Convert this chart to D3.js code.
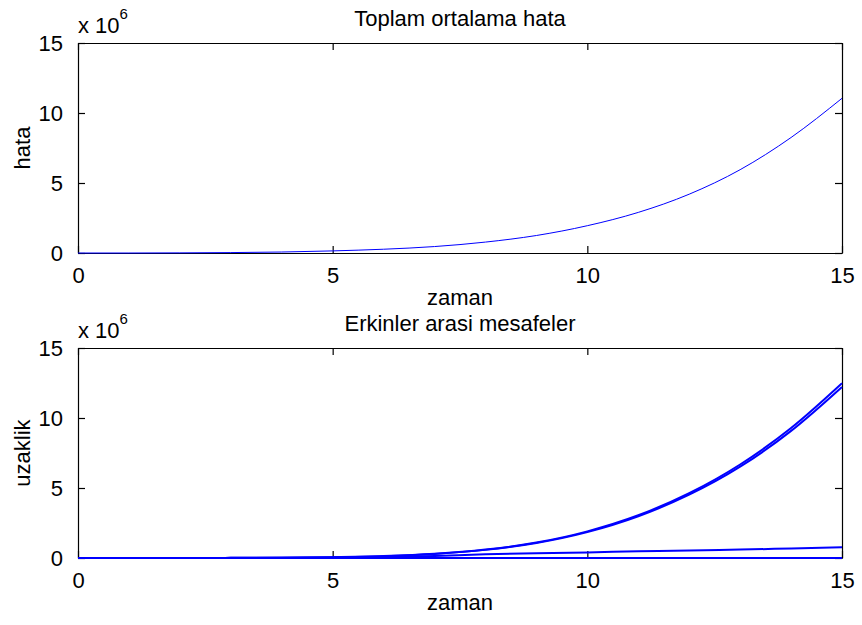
<!DOCTYPE html>
<html>
<head>
<meta charset="utf-8">
<script src="https://cdn.jsdelivr.net/npm/d3@7"></script>
<style>
  body { margin: 0; background: #fff; }
  svg text { font-family: "Liberation Sans", Arial, sans-serif; fill: #000; }
</style>
</head>
<body>
<svg id="chart" width="862" height="625"></svg>
<script>
// time axis (zaman)
var zaman = [0, 1, 2, 3, 4, 5, 6, 7, 8, 9, 10, 11, 12, 13, 14, 15];

// top plot: total mean error, x 10^6
var hata = [0, 0, 0.01, 0.03, 0.07, 0.15, 0.27, 0.46, 0.78, 1.25, 1.95, 2.9, 4.2, 5.95, 8.25, 11.05];

// bottom plot: distances between agents, x 10^6
var uzaklik1 = [0, 0, 0, 0.01, 0.02, 0.06, 0.14, 0.3, 0.6, 1.1, 1.9, 3.05, 4.63, 6.68, 9.28, 12.48];
var uzaklik2 = [0, 0, 0, 0.01, 0.02, 0.06, 0.13, 0.29, 0.58, 1.07, 1.85, 2.98, 4.52, 6.52, 9.08, 12.22];
var uzaklik3 = [0, 0, 0, 0, 0.01, 0.02, 0.06, 0.15, 0.26, 0.34, 0.4, 0.48, 0.54, 0.6, 0.68, 0.76];
var uzaklik4 = [0, 0, 0, 0, 0, 0, 0, 0, 0, 0, 0, 0, 0, 0, 0, 0];

var xTicks = [0, 5, 10, 15];
var yTicks = [0, 5, 10, 15];

var svg = d3.select('#chart');
var left = 78, right = 842, plotH = 210;

function drawPanel(top, title, ylabel, series, lineWidth) {
  var x = d3.scaleLinear().domain([0, 15]).range([left, right]);
  var y = d3.scaleLinear().domain([0, 15]).range([top + plotH, top]);
  var g = svg.append('g');

  // axes, ticks pointing inward like matlab
  var bottomAx = g.append('g').attr('transform', 'translate(0,' + (top + plotH) + ')')
    .call(d3.axisBottom(x).tickValues(xTicks).tickSizeInner(-7).tickSizeOuter(0).tickPadding(14));
  var topAx = g.append('g').attr('transform', 'translate(0,' + top + ')')
    .call(d3.axisTop(x).tickValues(xTicks).tickSizeInner(-7).tickSizeOuter(0).tickFormat(''));
  var leftAx = g.append('g').attr('transform', 'translate(' + left + ',0)')
    .call(d3.axisLeft(y).tickValues(yTicks).tickSizeInner(-7).tickSizeOuter(0).tickPadding(15));
  var rightAx = g.append('g').attr('transform', 'translate(' + right + ',0)')
    .call(d3.axisRight(y).tickValues(yTicks).tickSizeInner(-7).tickSizeOuter(0).tickFormat(''));

  [bottomAx, topAx, leftAx, rightAx].forEach(function(a) {
    a.select('.domain').attr('stroke', '#000').attr('stroke-width', 1.2);
    a.selectAll('.tick line').attr('stroke', '#000').attr('stroke-width', 1.2);
    a.selectAll('text').style('font-size', '22px').style('font-family', '"Liberation Sans", Arial, sans-serif').attr('fill', '#000');
  });
  leftAx.selectAll('text').attr('dy', '0.36em');

  var line = d3.line()
    .x(function(d, i) { return x(zaman[i]); })
    .y(function(d) { return y(d); })
    .curve(d3.curveMonotoneX);

  // data on top of the axes, as in the original
  series.forEach(function(s) {
    g.append('path')
      .attr('d', line(s))
      .attr('fill', 'none')
      .attr('stroke', '#0000ff')
      .attr('stroke-width', lineWidth);
  });

  // exponent label
  var ex = g.append('text').attr('x', left).attr('y', top - 10).style('font-size', '22px');
  ex.append('tspan').text('x 10');
  ex.append('tspan').attr('dy', -14).style('font-size', '15px').text('6');

  g.append('text')
    .attr('x', (left + right) / 2).attr('y', top - 17)
    .attr('text-anchor', 'middle').style('font-size', '22px')
    .text(title);

  g.append('text')
    .attr('x', (left + right) / 2).attr('y', top + plotH + 52)
    .attr('text-anchor', 'middle').style('font-size', '22px')
    .text('zaman');

  g.append('text')
    .attr('transform', 'translate(30,' + (top + plotH / 2) + ') rotate(-90)')
    .attr('text-anchor', 'middle').style('font-size', '22px')
    .text(ylabel);
}

drawPanel(43, 'Toplam ortalama hata', 'hata', [hata], 1);
drawPanel(348, 'Erkinler arasi mesafeler', 'uzaklik', [uzaklik4, uzaklik3, uzaklik2, uzaklik1], 2);
</script>
</body>
</html>
